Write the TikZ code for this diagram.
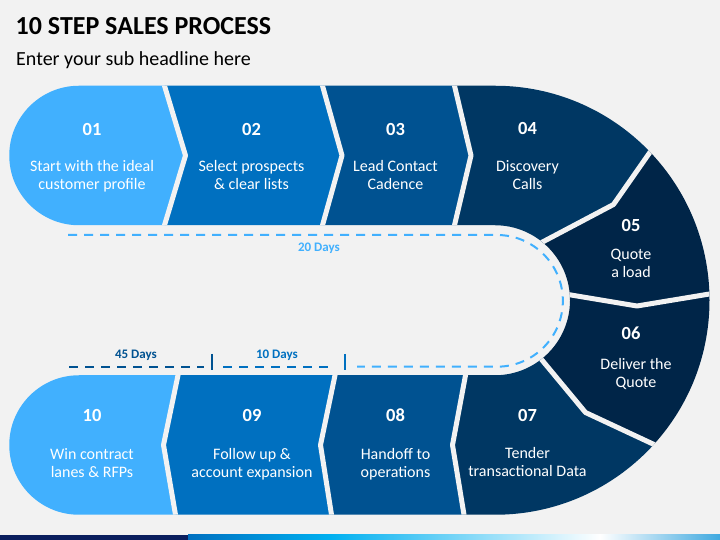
\documentclass[tikz,border=0pt]{standalone}
\usepackage{fontspec}
\setmainfont{Carlito}
\definecolor{bgc}{HTML}{F2F2F2}
\definecolor{cA}{HTML}{41B0FE}
\definecolor{cB}{HTML}{0070C0}
\definecolor{cC}{HTML}{005291}
\definecolor{cD}{HTML}{003763}
\definecolor{cE}{HTML}{002548}
\definecolor{navy}{HTML}{0B1F5E}
\definecolor{cyanb}{HTML}{00B0F0}
\definecolor{stripe}{HTML}{3FA9E0}
\begin{document}
\begin{tikzpicture}[x=1pt,y=1pt,
  sep/.style={draw=bgc, line width=5pt, line join=round},
  num/.style={anchor=base, inner sep=0pt, text=white, font=\bfseries\fontsize{18.5}{22}\selectfont},
  lbl/.style={anchor=base, inner sep=0pt, text=white, align=center, font=\fontsize{16}{18.3}\selectfont},
  days/.style={anchor=base, inner sep=0pt, font=\bfseries\fontsize{13}{15}\selectfont},
  dash1/.style={line width=2pt, dash pattern=on 9pt off 7pt},
  tick/.style={line width=2.5pt}]
\useasboundingbox (0,0) rectangle (720,540);
\fill[bgc] (0,0) rectangle (720,540);
% bottom strip
\fill[navy] (0,0) rectangle (188.5,5);
\shade[left color=cB, right color=cyanb] (188,0) rectangle (330.5,5);
\shade[left color=cyanb, right color=white] (330,0) rectangle (600.5,5);
\shade[left color=white, right color=stripe] (600,0) rectangle (720,5);
% band
\begin{scope}
\clip (79,454.25) -- (495,454.25) arc[start angle=90, end angle=-90, radius=214.5]
  -- (79,25.25) arc[start angle=270, end angle=90, radius=69.75]
  -- (495,164.75) arc[start angle=-90, end angle=90, radius=75]
  -- (79,314.75) arc[start angle=270, end angle=90, radius=69.75] -- cycle;
\coordinate (C) at (495,239.75);
% 01
\fill[cA] (0,470) -- (164.5,470) -- (164.5,454.25) -- (185.5,384.5) -- (164.5,314.75) -- (164.5,300) -- (0,300) -- cycle;
% 02
\fill[cB] (164.5,470) -- (164.5,454.25) -- (185.5,384.5) -- (164.5,314.75) -- (164.5,300) -- (322.5,300) -- (322.5,314.75) -- (342,384.5) -- (322.5,454.25) -- (322.5,470) -- cycle;
% 03
\fill[cC] (322.5,470) -- (322.5,454.25) -- (342,384.5) -- (322.5,314.75) -- (322.5,300) -- (454.5,300) -- (454.5,314.75) -- (471,384.5) -- (454.5,454.25) -- (454.5,470) -- cycle;
% 04
\fill[cD] (454.5,470) -- (454.5,454.25) -- (471,384.5) -- (454.5,314.75) -- (454.5,300) -- (C) -- (533,292.9) -- (543.5,298.5) -- (613.5,335.5) -- (650.5,388.5) -- (687.5,441.5) -- (687.5,470) -- cycle;
% 05
\fill[cE] (C) -- (533,292.9) -- (543.5,298.5) -- (613.5,335.5) -- (650.5,388.5) -- (687.5,441.5) -- (740,441.5) -- (740,251) -- (709.5,246) -- (637,234) -- (571,245) -- (559.2,247) -- cycle;
% 06
\fill[cE] (C) -- (559.2,247) -- (571,245) -- (637,234) -- (709.5,246) -- (740,251) -- (740,40) -- (722.5,63.5) -- (654,95.5) -- (585.5,127.5) -- (541.5,180.5) -- (533.8,189.7) -- cycle;
% 07
\fill[cD] (C) -- (533.8,189.7) -- (541.5,180.5) -- (585.5,127.5) -- (654,95.5) -- (722.5,63.5) -- (722.5,10) -- (464,10) -- (464,25.25) -- (452.5,95) -- (465.5,164.75) -- (465.5,180) -- cycle;
% 08
\fill[cC] (465.5,180) -- (465.5,164.75) -- (452.5,95) -- (464,25.25) -- (464,10) -- (331.5,10) -- (331.5,25.25) -- (320.5,95) -- (335,164.75) -- (335,180) -- cycle;
% 09
\fill[cB] (335,180) -- (335,164.75) -- (320.5,95) -- (331.5,25.25) -- (331.5,10) -- (175.5,10) -- (175.5,25.25) -- (163.5,95) -- (178,164.75) -- (178,180) -- cycle;
% 10
\fill[cA] (178,180) -- (178,164.75) -- (163.5,95) -- (175.5,25.25) -- (175.5,10) -- (0,10) -- (0,180) -- cycle;
% separators
\draw[sep] (164.5,470) -- (164.5,454.25) -- (185.5,384.5) -- (164.5,314.75) -- (164.5,300);
\draw[sep] (322.5,470) -- (322.5,454.25) -- (342,384.5) -- (322.5,314.75) -- (322.5,300);
\draw[sep] (454.5,470) -- (454.5,454.25) -- (471,384.5) -- (454.5,314.75) -- (454.5,300);
\draw[sep] (533,292.9) -- (543.5,298.5) -- (613.5,335.5) -- (650.5,388.5) -- (687.5,441.5);
\draw[sep] (559.2,247) -- (571,245) -- (637,234) -- (709.5,246) -- (740,251);
\draw[sep] (533.8,189.7) -- (541.5,180.5) -- (585.5,127.5) -- (654,95.5) -- (722.5,63.5);
\draw[sep] (465.5,180) -- (465.5,164.75) -- (452.5,95) -- (464,25.25) -- (464,10);
\draw[sep] (335,180) -- (335,164.75) -- (320.5,95) -- (331.5,25.25) -- (331.5,10);
\draw[sep] (178,180) -- (178,164.75) -- (163.5,95) -- (175.5,25.25) -- (175.5,10);
\end{scope}
% dashed timeline
\coordinate (dA) at (68,305);
\coordinate (dB) at (497,305);
\coordinate (dC) at (357,173.3);
\draw[cA, dash1] (dA) -- (dB) arc[start angle=90, end angle=-90, radius=65.85] -- (dC);
\coordinate (eA) at (69,173.3);
\coordinate (eB) at (204,173.3);
\coordinate (fA) at (220,173.3);
\coordinate (fB) at (335,173.3);
\draw[cC, dash1] (eA) -- (eB);
\draw[cB, dash1, dash phase=13pt] (fA) -- (fB);
\coordinate (k1a) at (212,186);
\coordinate (k1b) at (212,170);
\coordinate (k2a) at (345,186);
\coordinate (k2b) at (345,170);
\draw[cC, tick] (k1a) -- (k1b);
\draw[cB, tick] (k2a) -- (k2b);
\node[days, text=cA] (d20) at (319,288.3) {20 Days};
\node[days, text=cC] (d45) at (136,181) {45 Days};
\node[days, text=cB] (d10) at (277,181) {10 Days};
% titles
\node[anchor=base west, inner sep=0pt, font=\bfseries\fontsize{26}{30}\selectfont] (title) at (15.5,505) {10 STEP SALES PROCESS};
\node[anchor=base west, inner sep=0pt, font=\fontsize{20}{24}\selectfont] (sub) at (16,474) {Enter your sub headline here};
% step texts (anchor base = baseline of last line)
\node[num] (n01) at (92,404) {01};
\node[lbl] (t01) at (92,350) {Start with the ideal\\customer profile};
\node[num] (n02) at (251.5,404) {02};
\node[lbl] (t02) at (251.5,350) {Select prospects\\\& clear lists};
\node[num] (n03) at (395.5,404) {03};
\node[lbl] (t03) at (395.5,350) {Lead Contact\\Cadence};
\node[num] (n04) at (527.5,405) {04};
\node[lbl] (t04) at (527.5,350) {Discovery\\Calls};
\node[num] (n05) at (631,308.3) {05};
\node[lbl] (t05) at (631,262) {Quote\\a load};
\node[num] (n06) at (631,200) {06};
\node[lbl] (t06) at (636,152) {Deliver the\\Quote};
\node[num] (n07) at (527.5,118.3) {07};
\node[lbl] (t07) at (527.5,63.3) {Tender\\transactional Data};
\node[num] (n08) at (395.5,118.3) {08};
\node[lbl] (t08) at (395.5,62.3) {Handoff to\\operations};
\node[num] (n09) at (252,118.3) {09};
\node[lbl] (t09) at (252,62.3) {Follow up \&\\account expansion};
\node[num] (n10) at (92,118.3) {10};
\node[lbl] (t10) at (92,62.3) {Win contract\\lanes \& RFPs};
\end{tikzpicture}
\end{document}
